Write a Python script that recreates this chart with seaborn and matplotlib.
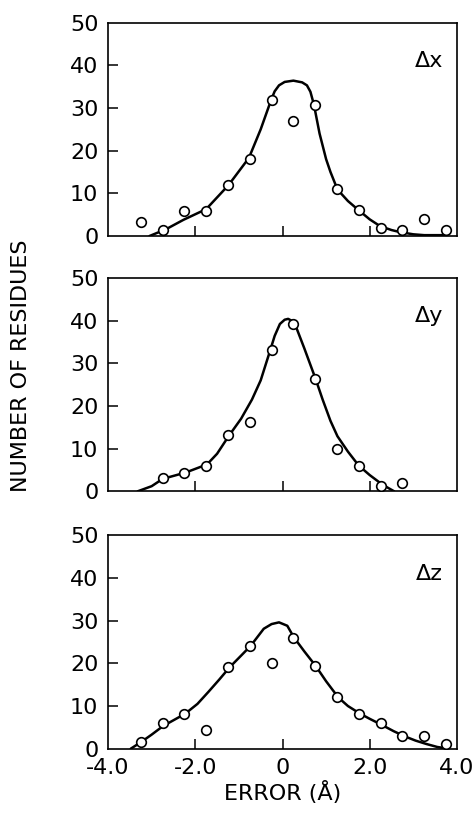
import numpy as np
import pandas as pd
import matplotlib
matplotlib.use("Agg")
import matplotlib.pyplot as plt
import seaborn as sns

# ---- data: observed points ----
x_pts_x = [-3.25, -2.75, -2.25, -1.75, -1.25, -0.75, -0.25, 0.25, 0.75, 1.25, 1.75, 2.25, 2.75, 3.25, 3.75]
n_pts_x = [3.2, 1.4, 5.9, 5.8, 11.9, 18.1, 31.9, 26.9, 30.8, 10.9, 6.1, 1.9, 1.4, 3.9, 1.4]

x_pts_y = [-2.75, -2.25, -1.75, -1.25, -0.75, -0.25, 0.25, 0.75, 1.25, 1.75, 2.25, 2.75]
n_pts_y = [3.0, 4.3, 6.0, 13.2, 16.3, 33.1, 39.2, 26.3, 10.0, 6.0, 1.2, 1.9]

x_pts_z = [-3.25, -2.75, -2.25, -1.75, -1.25, -0.75, -0.25, 0.25, 0.75, 1.25, 1.75, 2.25, 2.75, 3.25, 3.75]
n_pts_z = [1.5, 6.1, 8.2, 4.3, 19.1, 24.1, 20.0, 26.0, 19.4, 12.0, 8.2, 6.0, 2.9, 3.0, 1.2]

# ---- data: fitted curves (traced) ----
cx_x = [-3.05, -2.67, -2.27, -1.75, -1.24, -0.77, -0.50, -0.26, -0.18, -0.08, 0.05, 0.25, 0.45, 0.56, 0.64, 0.72, 0.85, 1.00, 1.10, 1.26, 1.50, 1.74, 2.00, 2.24, 2.50, 2.70, 3.00, 3.25, 3.70]
cy_x = [0.0, 1.6, 3.8, 6.3, 11.9, 18.3, 25.0, 31.9, 33.9, 35.3, 36.1, 36.4, 36.0, 35.3, 33.8, 30.8, 24.0, 18.0, 15.0, 10.9, 8.2, 6.1, 3.9, 2.3, 1.4, 0.9, 0.4, 0.2, 0.2]

cx_y = [-3.32, -3.00, -2.75, -2.22, -1.73, -1.50, -1.23, -0.95, -0.70, -0.50, -0.28, -0.18, -0.06, 0.05, 0.13, 0.22, 0.30, 0.50, 0.76, 0.92, 1.10, 1.26, 1.50, 1.75, 2.00, 2.30, 2.56]
cy_y = [0.0, 1.2, 2.9, 4.4, 6.3, 8.8, 13.0, 17.0, 21.5, 26.0, 33.1, 36.4, 39.2, 40.2, 40.4, 39.9, 38.8, 33.5, 26.3, 21.5, 16.5, 12.9, 9.3, 6.0, 3.8, 1.5, 0.0]

cx_z = [-3.48, -3.25, -3.00, -2.74, -2.23, -1.95, -1.70, -1.45, -1.21, -0.95, -0.73, -0.43, -0.25, -0.08, 0.11, 0.26, 0.50, 0.76, 1.00, 1.28, 1.50, 1.78, 2.00, 2.29, 2.55, 2.80, 3.05, 3.30, 3.55, 3.78]
cy_z = [0.0, 1.5, 3.3, 5.3, 8.2, 10.5, 13.3, 16.2, 19.1, 21.8, 24.1, 28.1, 29.2, 29.6, 28.8, 26.1, 22.8, 19.4, 15.8, 12.0, 10.0, 8.2, 7.0, 5.5, 4.1, 2.9, 1.9, 1.1, 0.4, 0.05]

panel_labels = ["\u0394x", "\u0394y", "\u0394z"]
x_ticks = [-4.0, -2.0, 0.0, 2.0, 4.0]
x_ticklabels = ["-4.0", "-2.0", "0", "2.0", "4.0"]
y_ticks = [0, 10, 20, 30, 40, 50]

sns.set_style("ticks")
plt.rcParams["font.family"] = ["DejaVu Sans"]
for k in ("text.color", "axes.labelcolor", "xtick.color", "ytick.color", "axes.edgecolor"):
    plt.rcParams[k] = "black"

fig = plt.figure(figsize=(4.74, 8.13), dpi=100)
bottoms = [0.7097, 0.3957, 0.0791]
height = 0.2625
left, width = 0.2280, 0.7360
FS = 16

panels = [
    (x_pts_x, n_pts_x, cx_x, cy_x),
    (x_pts_y, n_pts_y, cx_y, cy_y),
    (x_pts_z, n_pts_z, cx_z, cy_z),
]

for i, (px, py, cx, cy) in enumerate(panels):
    ax = fig.add_axes([left, bottoms[i], width, height])
    curve = pd.DataFrame({"x": cx, "y": cy})
    pts = pd.DataFrame({"x": px, "y": py})
    sns.lineplot(data=curve, x="x", y="y", ax=ax, color="black", lw=1.8,
                 sort=False, estimator=None, zorder=2)
    sns.scatterplot(data=pts, x="x", y="y", ax=ax, marker="o", s=48,
                    facecolor="white", edgecolor="black", linewidth=1.2, zorder=3)
    ax.set_xlim(-4, 4)
    ax.set_ylim(0, 50)
    ax.tick_params(direction="in", length=7, width=1.1, labelsize=FS, pad=7)
    ax.set_yticks(y_ticks)
    ax.set_yticklabels([str(t) for t in y_ticks])
    if i == 2:
        ax.set_xticks(x_ticks)
        ax.set_xticklabels(x_ticklabels)
        ax.set_xlabel("ERROR (\u00c5)", fontsize=FS, labelpad=2)
    else:
        ax.set_xticks([-2.0, 0.0, 2.0])
        ax.set_xticklabels([])
        ax.set_xlabel("")
    ax.set_ylabel("")
    for sp in ax.spines.values():
        sp.set_visible(True)
        sp.set_linewidth(1.2)
        sp.set_color("black")
    ax.text(0.96, 41, panel_labels[i], transform=ax.get_yaxis_transform(),
            ha="right", va="center", fontsize=FS)
    for t in ax.yaxis.get_major_ticks():
        if t.get_loc() in (0, 50):
            t.tick1line.set_visible(False)
    for t in ax.xaxis.get_major_ticks():
        if t.get_loc() in (-4.0, 4.0):
            t.tick1line.set_visible(False)

fig.text(0.045, 0.55, "NUMBER OF RESIDUES", rotation=90, ha="center", va="center",
         fontsize=FS)

fig.savefig("out.png", dpi=100, facecolor="white")
